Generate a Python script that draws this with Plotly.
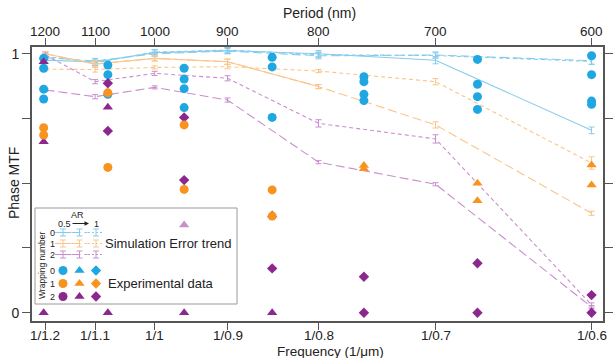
import plotly.graph_objects as go

# ---------------- data ----------------
# simulation grid (period in nm)
sim_periods = [1200, 1100, 1000, 900, 800, 700, 600]

# wrapping number 0 (AR 0.5 / 0.75 / 1)
sim_w0_ar05 = [0.975, 0.968, 1.004, 1.012, 1.000, 0.975, 0.704]
sim_w0_ar075 = [0.985, 0.972, 1.000, 1.010, 0.992, 0.995, 0.973]
sim_w0_ar1 = [0.990, 0.965, 1.006, 1.014, 0.996, 0.993, 0.970]
err_w0_ar05 = [0.010, 0.012, 0.012, 0.012, 0.012, 0.014, 0.013]
err_w0_ar075 = [0.010, 0.010, 0.010, 0.010, 0.012, 0.012, 0.013]
err_w0_ar1 = [0.008, 0.010, 0.010, 0.010, 0.010, 0.010, 0.012]

# wrapping number 1
sim_w1_ar05 = [1.000, 0.960, 0.982, 0.969, 0.873, None, None]
sim_w1_ar075 = [1.000, 0.960, 0.982, 0.969, 0.873, 0.725, 0.384]
sim_w1_ar1 = [0.940, 0.939, 0.947, 0.950, 0.933, 0.892, 0.578]
err_w1_ar05 = [0.008, 0.012, 0.010, 0.010, 0.008, None, None]
err_w1_ar075 = [0.008, 0.012, 0.010, 0.010, 0.008, 0.012, 0.008]
err_w1_ar1 = [0.006, 0.010, 0.006, 0.008, 0.006, 0.012, 0.024]

# wrapping number 2
sim_w2_ar075 = [0.860, 0.834, 0.870, 0.821, 0.581, 0.496, 0.022]
sim_w2_ar1 = [0.995, 0.892, 0.924, 0.905, 0.731, 0.671, 0.030]
err_w2_ar075 = [0.006, 0.008, 0.006, 0.008, 0.006, 0.006, 0.006]
err_w2_ar1 = [0.008, 0.008, 0.008, 0.010, 0.014, 0.016, 0.008]

# experimental data (period in nm, phase MTF)
exp_w0_ar05_period = [1204, 1204, 1204, 1204, 1077, 1077, 1077, 957, 957, 957, 957,
                      848, 848, 848, 758, 758, 758, 758, 670, 670, 670, 670,
                      600, 600, 600, 600]
exp_w0_ar05_mtf = [0.982, 0.944, 0.863, 0.825, 0.956, 0.919, 0.843, 0.944, 0.902, 0.865, 0.792,
                   0.986, 0.949, 0.754, 0.911, 0.892, 0.843, 0.819, 0.978, 0.882, 0.834, 0.785,
                   0.992, 0.919, 0.817, 0.805]

exp_w1_ar05_period = [1204, 1204, 1077, 1077, 957, 957, 848, 848]
exp_w1_ar05_mtf = [0.714, 0.686, 0.849, 0.561, 0.725, 0.476, 0.474, 0.373]
exp_w1_ar075_period = [758, 758, 670, 670, 600, 600]
exp_w1_ar075_mtf = [0.568, 0.556, 0.500, 0.432, 0.570, 0.493]

exp_w2_ar075_period = [1204, 1204, 1204, 1077, 1077, 957, 848, 848]
exp_w2_ar075_mtf = [0.969, 0.660, 0.000, 0.793, 0.000, 0.000, 0.377, 0.000]
exp_w2_ar075_faded_period = [957]
exp_w2_ar075_faded_mtf = [0.339]
exp_w2_ar1_period = [1077, 1077, 957, 957, 848, 758, 758, 670, 670, 600, 600]
exp_w2_ar1_mtf = [0.886, 0.702, 0.754, 0.512, 0.171, 0.139, 0.000, 0.191, 0.000, 0.068, 0.000]

# axis ticks
tick_periods = [1200, 1100, 1000, 900, 800, 700, 600]
freq_tick_text = ["1/1.2", "1/1.1", "1/1", "1/0.9", "1/0.8", "1/0.7", "1/0.6"]
period_tick_text = ["1200", "1100", "1000", "900", "800", "700", "600"]
mtf_ticks = [0, 0.25, 0.5, 0.75, 1]
mtf_tick_text = ["0", "", "", "", "1"]

# ---------------- styling ----------------
FONT = "Liberation Sans, Arial, sans-serif"
TXT = "#222222"
AXC = "#555555"
SIM_COL = {0: "#86CBEC", 1: "#FBC58A", 2: "#C98ECE"}
EXP_COL = {0: "#1FA7E1", 1: "#F7931E", 2: "#8B288F"}
FADED = "#C690C9"
DASH = {"0.5": "solid", "0.75": "9px,4px", "1": "4px,3px"}
SYM_SIZE = {"circle": 9, "triangle-up": 9, "diamond": 8}

# figure geometry (pixels)
W, H = 613, 358
ML, MR, MT, MB = 32, 10, 47, 37
X0, X1 = ML, W - MR
Y0, Y1 = MT, H - MB
# frequency -> pixel: x = A + B * f
A, B = -500.6, 655.3
f_lo, f_hi = (X0 - A) / B, (X1 - A) / B
# mtf -> pixel: y = C - D * v
C, D = 312.7, 259.0
v_hi, v_lo = (C - Y0) / D, (C - Y1) / D


def freq(periods):
    return [1000.0 / p for p in periods]


def px(x):
    return (x - X0) / (X1 - X0)


def py(y):
    return (Y1 - y) / (Y1 - Y0)


fig = go.Figure()

# simulation curves
sims = [
    (sim_w0_ar05, err_w0_ar05, 0, "0.5"),
    (sim_w0_ar075, err_w0_ar075, 0, "0.75"),
    (sim_w0_ar1, err_w0_ar1, 0, "1"),
    (sim_w1_ar05, err_w1_ar05, 1, "0.5"),
    (sim_w1_ar075, err_w1_ar075, 1, "0.75"),
    (sim_w1_ar1, err_w1_ar1, 1, "1"),
    (sim_w2_ar075, err_w2_ar075, 2, "0.75"),
    (sim_w2_ar1, err_w2_ar1, 2, "1"),
]
for vals, errs, w, ar in sims:
    fig.add_trace(go.Scatter(
        x=freq(sim_periods), y=vals, mode="lines",
        line=dict(color=SIM_COL[w], width=1.1, dash=DASH[ar]),
        error_y=dict(type="data", array=errs, color=SIM_COL[w], thickness=1, width=3),
        connectgaps=False, hoverinfo="skip"))

# experimental points
exps = [
    (exp_w0_ar05_period, exp_w0_ar05_mtf, "circle", EXP_COL[0]),
    (exp_w2_ar075_faded_period, exp_w2_ar075_faded_mtf, "triangle-up", FADED),
    (exp_w2_ar1_period, exp_w2_ar1_mtf, "diamond", EXP_COL[2]),
    (exp_w2_ar075_period, exp_w2_ar075_mtf, "triangle-up", EXP_COL[2]),
    (exp_w1_ar05_period, exp_w1_ar05_mtf, "circle", EXP_COL[1]),
    (exp_w1_ar075_period, exp_w1_ar075_mtf, "triangle-up", EXP_COL[1]),
]
for per, vals, sym, col in exps:
    fig.add_trace(go.Scatter(
        x=freq(per), y=vals, mode="markers",
        marker=dict(symbol=sym, size=SYM_SIZE[sym], color=col, line=dict(width=0)),
        hoverinfo="skip"))

# top axis carrier
fig.add_trace(go.Scatter(x=freq(tick_periods), y=[None] * len(tick_periods),
                         xaxis="x2", yaxis="y", mode="markers", hoverinfo="skip"))

# ---------------- legend panel (pixel coordinates on x3/y3) ----------------
LEG_BOX = (35, 208, 237, 304)
SIM_ROWS = [232.5, 243.5, 254.5]
EXP_ROWS = [270.5, 283.5, 296.5]
COLS = [63, 79.5, 96]
AR_KEYS = ["0.5", "0.75", "1"]
EXP_SYMS = ["circle", "triangle-up", "diamond"]

fig.add_shape(type="rect", xref="paper", yref="paper",
              x0=px(LEG_BOX[0]), x1=px(LEG_BOX[2]), y0=py(LEG_BOX[3]), y1=py(LEG_BOX[1]),
              line=dict(color="#9a9a9a", width=1), fillcolor="rgba(255,255,255,0)", layer="below")

for r, yy in enumerate(SIM_ROWS):
    for c, xx in enumerate(COLS):
        fig.add_trace(go.Scatter(
            x=[xx - 8, xx + 8], y=[yy, yy], xaxis="x3", yaxis="y3", mode="lines",
            line=dict(color=SIM_COL[r], width=1.1, dash=DASH[AR_KEYS[c]] if c < 2 else "2px,2px"),
            hoverinfo="skip"))
        fig.add_trace(go.Scatter(
            x=[xx], y=[yy], xaxis="x3", yaxis="y3", mode="markers",
            marker=dict(size=1, color="rgba(0,0,0,0)"),
            error_y=dict(type="constant", value=3.5, color=SIM_COL[r], thickness=1, width=3),
            hoverinfo="skip"))
for r, yy in enumerate(EXP_ROWS):
    for c, xx in enumerate(COLS):
        fig.add_trace(go.Scatter(
            x=[xx], y=[yy], xaxis="x3", yaxis="y3", mode="markers",
            marker=dict(symbol=EXP_SYMS[c], size=SYM_SIZE[EXP_SYMS[c]], color=EXP_COL[r],
                        line=dict(width=0)),
            hoverinfo="skip"))

ann = []
small = dict(family=FONT, size=9, color=TXT)
ann.append(dict(x=px(77), y=py(214.5), text="AR", font=small))
ann.append(dict(x=px(64), y=py(223.5), text="0.5", font=small))
ann.append(dict(x=px(96), y=py(223.5), text="1", font=small))
ann.append(dict(x=px(42), y=py(265), text="Wrapping number", textangle=-90,
                font=dict(family=FONT, size=8.5, color=TXT)))
for r in range(3):
    ann.append(dict(x=px(52), y=py(SIM_ROWS[r]), text=str(r), font=small))
    ann.append(dict(x=px(52), y=py(EXP_ROWS[r]), text=str(r), font=small))
ann.append(dict(x=px(103), y=py(243.5), text="Simulation Error trend", xanchor="left",
                font=dict(family=FONT, size=13, color=TXT)))
ann.append(dict(x=px(106), y=py(283.5), text="Experimental data", xanchor="left",
                font=dict(family=FONT, size=13, color=TXT)))
# axis titles
ann.append(dict(x=px(319), y=py(13), text="Period (nm)", font=dict(family=FONT, size=14, color=TXT)))
ann.append(dict(x=px(330), y=py(351.5), text="Frequency (1/\u03bcm)",
                font=dict(family=FONT, size=13.5, color=TXT)))
ann.append(dict(x=px(14), y=py(183), text="Phase MTF", textangle=-90,
                font=dict(family=FONT, size=14, color=TXT)))
for a in ann:
    a.setdefault("xref", "paper")
    a.setdefault("yref", "paper")
# tick labels of both frequency / period axes, placed at the tick values
tickfont = dict(family=FONT, size=13.5, color=TXT)
for f, lab_b, lab_t in zip(freq(tick_periods), freq_tick_text, period_tick_text):
    ann.append(dict(x=f, xref="x", y=py(335.5), yref="paper", text=lab_b, font=tickfont))
    ann.append(dict(x=f, xref="x", y=py(31.5), yref="paper", text=lab_t, font=tickfont))
for a in ann:
    a.setdefault("showarrow", False)
    a.setdefault("xanchor", "center")
    a.setdefault("yanchor", "middle")
# AR arrow
ann.append(dict(x=px(89), y=py(223.5), ax=-18, ay=0, xref="paper", yref="paper",
                axref="pixel", ayref="pixel", showarrow=True, arrowhead=2, arrowsize=0.9,
                arrowwidth=1, arrowcolor=TXT, text=""))

fig.update_layout(
    width=W, height=H, autosize=False,
    margin=dict(l=ML, r=MR, t=MT, b=MB, pad=0, autoexpand=False),
    plot_bgcolor="white", paper_bgcolor="white",
    showlegend=False,
    font=dict(family=FONT, size=13, color=TXT),
    xaxis=dict(range=[f_lo, f_hi], tickvals=freq(tick_periods), showticklabels=False,
               ticks="outside", ticklen=7, tickwidth=1.2, tickcolor=AXC, automargin=False,
               showline=True, linecolor=AXC, linewidth=1.6, showgrid=False, zeroline=False),
    xaxis2=dict(range=[f_lo, f_hi], overlaying="x", side="top", anchor="y",
                tickvals=freq(tick_periods), showticklabels=False, automargin=False,
                ticks="outside", ticklen=7, tickwidth=1.2, tickcolor=AXC,
                showline=True, linecolor=AXC, linewidth=1.6, showgrid=False, zeroline=False),
    yaxis=dict(range=[v_lo, v_hi], tickvals=mtf_ticks, ticktext=mtf_tick_text,
               ticks="outside", ticklen=8, tickwidth=1.2, tickcolor=AXC, mirror="ticks",
               showline=True, linecolor=AXC, linewidth=1.6, showgrid=False, zeroline=False,
               tickfont=dict(family=FONT, size=14, color=TXT), automargin=False),
    xaxis3=dict(range=[X0, X1], overlaying="x", anchor="y3", visible=False, automargin=False),
    yaxis3=dict(range=[Y1, Y0], overlaying="y", anchor="x3", visible=False, automargin=False),
    annotations=ann,
)

fig.write_html("out.html")
